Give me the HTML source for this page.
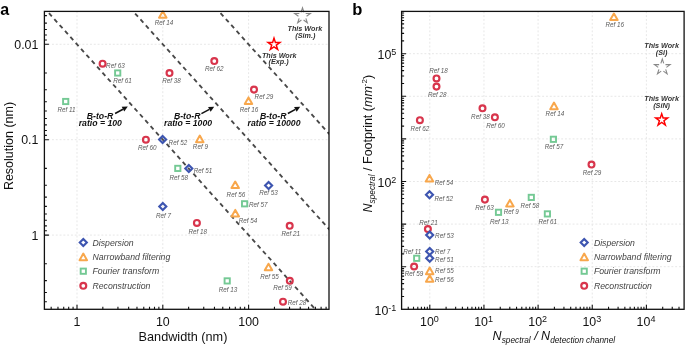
<!DOCTYPE html><html><head><meta charset="utf-8"><style>html,body{margin:0;padding:0;background:#fff;width:685px;height:346px;overflow:hidden}svg{display:block;will-change:transform}</style></head><body><svg width="685" height="346" viewBox="0 0 685 346" font-family='"Liberation Sans", sans-serif'><rect width="685" height="346" fill="#fff"/><defs><clipPath id="ca"><rect x="44.4" y="11.4" width="284.6" height="297.90000000000003"/></clipPath><clipPath id="cb"><rect x="401.6" y="11.4" width="282.5" height="297.90000000000003"/></clipPath></defs><line x1="77.00" y1="11.4" x2="77.00" y2="309.3" stroke="#e4e4e4" stroke-width="0.9" stroke-dasharray="1.9 1.9"/><line x1="162.80" y1="11.4" x2="162.80" y2="309.3" stroke="#e4e4e4" stroke-width="0.9" stroke-dasharray="1.9 1.9"/><line x1="248.60" y1="11.4" x2="248.60" y2="309.3" stroke="#e4e4e4" stroke-width="0.9" stroke-dasharray="1.9 1.9"/><line x1="44.4" y1="44.30" x2="329.0" y2="44.30" stroke="#e4e4e4" stroke-width="0.9" stroke-dasharray="1.9 1.9"/><line x1="44.4" y1="139.70" x2="329.0" y2="139.70" stroke="#e4e4e4" stroke-width="0.9" stroke-dasharray="1.9 1.9"/><line x1="44.4" y1="235.10" x2="329.0" y2="235.10" stroke="#e4e4e4" stroke-width="0.9" stroke-dasharray="1.9 1.9"/><line x1="429.80" y1="11.4" x2="429.80" y2="309.3" stroke="#e4e4e4" stroke-width="0.9" stroke-dasharray="1.9 1.9"/><line x1="483.95" y1="11.4" x2="483.95" y2="309.3" stroke="#e4e4e4" stroke-width="0.9" stroke-dasharray="1.9 1.9"/><line x1="538.10" y1="11.4" x2="538.10" y2="309.3" stroke="#e4e4e4" stroke-width="0.9" stroke-dasharray="1.9 1.9"/><line x1="592.25" y1="11.4" x2="592.25" y2="309.3" stroke="#e4e4e4" stroke-width="0.9" stroke-dasharray="1.9 1.9"/><line x1="646.40" y1="11.4" x2="646.40" y2="309.3" stroke="#e4e4e4" stroke-width="0.9" stroke-dasharray="1.9 1.9"/><line x1="401.6" y1="266.70" x2="684.1" y2="266.70" stroke="#e4e4e4" stroke-width="0.9" stroke-dasharray="1.9 1.9"/><line x1="401.6" y1="224.10" x2="684.1" y2="224.10" stroke="#e4e4e4" stroke-width="0.9" stroke-dasharray="1.9 1.9"/><line x1="401.6" y1="181.50" x2="684.1" y2="181.50" stroke="#e4e4e4" stroke-width="0.9" stroke-dasharray="1.9 1.9"/><line x1="401.6" y1="138.90" x2="684.1" y2="138.90" stroke="#e4e4e4" stroke-width="0.9" stroke-dasharray="1.9 1.9"/><line x1="401.6" y1="96.30" x2="684.1" y2="96.30" stroke="#e4e4e4" stroke-width="0.9" stroke-dasharray="1.9 1.9"/><line x1="401.6" y1="53.70" x2="684.1" y2="53.70" stroke="#e4e4e4" stroke-width="0.9" stroke-dasharray="1.9 1.9"/><g clip-path="url(#ca)"><line x1="30" y1="-7.96" x2="340" y2="336.73" stroke="#484848" stroke-width="1.85" stroke-dasharray="4.3 3.7" stroke-dashoffset="3.64"/><line x1="30" y1="-103.36" x2="340" y2="241.33" stroke="#484848" stroke-width="1.85" stroke-dasharray="4.3 3.7" stroke-dashoffset="2.81"/><line x1="30" y1="-198.76" x2="340" y2="145.93" stroke="#484848" stroke-width="1.85" stroke-dasharray="4.3 3.7" stroke-dashoffset="3.10"/></g><path d="M51.17 309.3v-2.5M57.97 309.3v-2.5M63.71 309.3v-2.5M68.69 309.3v-2.5M73.07 309.3v-2.5M77.00 309.3v-4.5M102.83 309.3v-2.5M117.94 309.3v-2.5M128.66 309.3v-2.5M136.97 309.3v-2.5M143.77 309.3v-2.5M149.51 309.3v-2.5M154.49 309.3v-2.5M158.87 309.3v-2.5M162.80 309.3v-4.5M188.63 309.3v-2.5M203.74 309.3v-2.5M214.46 309.3v-2.5M222.77 309.3v-2.5M229.57 309.3v-2.5M235.31 309.3v-2.5M240.29 309.3v-2.5M244.67 309.3v-2.5M248.60 309.3v-4.5M274.43 309.3v-2.5M289.54 309.3v-2.5M300.26 309.3v-2.5M308.57 309.3v-2.5M315.37 309.3v-2.5M321.11 309.3v-2.5M326.09 309.3v-2.5M44.4 15.58h2.5M44.4 23.14h2.5M44.4 29.52h2.5M44.4 35.05h2.5M44.4 39.93h2.5M44.4 44.30h4.5M44.4 73.02h2.5M44.4 89.82h2.5M44.4 101.74h2.5M44.4 110.98h2.5M44.4 118.54h2.5M44.4 124.92h2.5M44.4 130.45h2.5M44.4 135.33h2.5M44.4 139.70h4.5M44.4 168.42h2.5M44.4 185.22h2.5M44.4 197.14h2.5M44.4 206.38h2.5M44.4 213.94h2.5M44.4 220.32h2.5M44.4 225.85h2.5M44.4 230.73h2.5M44.4 235.10h4.5M44.4 263.82h2.5M44.4 280.62h2.5M44.4 292.54h2.5M44.4 301.78h2.5M408.25 309.3v-2.5M413.50 309.3v-2.5M417.79 309.3v-2.5M421.41 309.3v-2.5M424.55 309.3v-2.5M427.32 309.3v-2.5M429.80 309.3v-4.5M446.10 309.3v-2.5M455.64 309.3v-2.5M462.40 309.3v-2.5M467.65 309.3v-2.5M471.94 309.3v-2.5M475.56 309.3v-2.5M478.70 309.3v-2.5M481.47 309.3v-2.5M483.95 309.3v-4.5M500.25 309.3v-2.5M509.79 309.3v-2.5M516.55 309.3v-2.5M521.80 309.3v-2.5M526.09 309.3v-2.5M529.71 309.3v-2.5M532.85 309.3v-2.5M535.62 309.3v-2.5M538.10 309.3v-4.5M554.40 309.3v-2.5M563.94 309.3v-2.5M570.70 309.3v-2.5M575.95 309.3v-2.5M580.24 309.3v-2.5M583.86 309.3v-2.5M587.00 309.3v-2.5M589.77 309.3v-2.5M592.25 309.3v-4.5M608.55 309.3v-2.5M618.09 309.3v-2.5M624.85 309.3v-2.5M630.10 309.3v-2.5M634.39 309.3v-2.5M638.01 309.3v-2.5M641.15 309.3v-2.5M643.92 309.3v-2.5M646.40 309.3v-4.5M662.70 309.3v-2.5M672.24 309.3v-2.5M679.00 309.3v-2.5M401.6 296.48h2.5M401.6 288.97h2.5M401.6 283.65h2.5M401.6 279.52h2.5M401.6 276.15h2.5M401.6 273.30h2.5M401.6 270.83h2.5M401.6 268.65h2.5M401.6 266.70h4.5M401.6 253.88h2.5M401.6 246.37h2.5M401.6 241.05h2.5M401.6 236.92h2.5M401.6 233.55h2.5M401.6 230.70h2.5M401.6 228.23h2.5M401.6 226.05h2.5M401.6 224.10h4.5M401.6 211.28h2.5M401.6 203.77h2.5M401.6 198.45h2.5M401.6 194.32h2.5M401.6 190.95h2.5M401.6 188.10h2.5M401.6 185.63h2.5M401.6 183.45h2.5M401.6 181.50h4.5M401.6 168.68h2.5M401.6 161.17h2.5M401.6 155.85h2.5M401.6 151.72h2.5M401.6 148.35h2.5M401.6 145.50h2.5M401.6 143.03h2.5M401.6 140.85h2.5M401.6 138.90h4.5M401.6 126.08h2.5M401.6 118.57h2.5M401.6 113.25h2.5M401.6 109.12h2.5M401.6 105.75h2.5M401.6 102.90h2.5M401.6 100.43h2.5M401.6 98.25h2.5M401.6 96.30h4.5M401.6 83.48h2.5M401.6 75.97h2.5M401.6 70.65h2.5M401.6 66.52h2.5M401.6 63.15h2.5M401.6 60.30h2.5M401.6 57.83h2.5M401.6 55.65h2.5M401.6 53.70h4.5M401.6 40.88h2.5M401.6 33.37h2.5M401.6 28.05h2.5M401.6 23.92h2.5M401.6 20.55h2.5M401.6 17.70h2.5M401.6 15.23h2.5M401.6 13.05h2.5" stroke="#111111" stroke-width="1.1" fill="none"/><text x="106.10" y="67.82" text-anchor="start" font-size="6.3" font-style="italic" fill="#5a5a5a">Ref 63</text><text x="113.20" y="83.12" text-anchor="start" font-size="6.3" font-style="italic" fill="#5a5a5a">Ref 61</text><text x="66.50" y="111.82" text-anchor="middle" font-size="6.3" font-style="italic" fill="#5a5a5a">Ref 11</text><text x="164.00" y="25.42" text-anchor="middle" font-size="6.3" font-style="italic" fill="#5a5a5a">Ref 14</text><text x="214.20" y="70.82" text-anchor="middle" font-size="6.3" font-style="italic" fill="#5a5a5a">Ref 62</text><text x="171.50" y="82.72" text-anchor="middle" font-size="6.3" font-style="italic" fill="#5a5a5a">Ref 38</text><text x="254.60" y="98.62" text-anchor="start" font-size="6.3" font-style="italic" fill="#5a5a5a">Ref 29</text><text x="249.00" y="111.62" text-anchor="middle" font-size="6.3" font-style="italic" fill="#5a5a5a">Ref 16</text><text x="147.30" y="149.82" text-anchor="middle" font-size="6.3" font-style="italic" fill="#5a5a5a">Ref 60</text><text x="168.60" y="145.22" text-anchor="start" font-size="6.3" font-style="italic" fill="#5a5a5a">Ref 52</text><text x="200.40" y="149.02" text-anchor="middle" font-size="6.3" font-style="italic" fill="#5a5a5a">Ref 9</text><text x="193.70" y="173.02" text-anchor="start" font-size="6.3" font-style="italic" fill="#5a5a5a">Ref 51</text><text x="178.70" y="180.22" text-anchor="middle" font-size="6.3" font-style="italic" fill="#5a5a5a">Ref 58</text><text x="235.90" y="196.52" text-anchor="middle" font-size="6.3" font-style="italic" fill="#5a5a5a">Ref 56</text><text x="268.60" y="195.42" text-anchor="middle" font-size="6.3" font-style="italic" fill="#5a5a5a">Ref 53</text><text x="248.90" y="207.02" text-anchor="start" font-size="6.3" font-style="italic" fill="#5a5a5a">Ref 57</text><text x="238.80" y="222.92" text-anchor="start" font-size="6.3" font-style="italic" fill="#5a5a5a">Ref 54</text><text x="163.50" y="218.22" text-anchor="middle" font-size="6.3" font-style="italic" fill="#5a5a5a">Ref 7</text><text x="197.70" y="234.22" text-anchor="middle" font-size="6.3" font-style="italic" fill="#5a5a5a">Ref 18</text><text x="290.80" y="235.92" text-anchor="middle" font-size="6.3" font-style="italic" fill="#5a5a5a">Ref 21</text><text x="228.00" y="291.62" text-anchor="middle" font-size="6.3" font-style="italic" fill="#5a5a5a">Ref 13</text><text x="269.50" y="278.72" text-anchor="middle" font-size="6.3" font-style="italic" fill="#5a5a5a">Ref 55</text><text x="282.60" y="289.92" text-anchor="middle" font-size="6.3" font-style="italic" fill="#5a5a5a">Ref 59</text><text x="287.70" y="304.62" text-anchor="start" font-size="6.3" font-style="italic" fill="#5a5a5a">Ref 28</text><circle cx="102.60" cy="63.70" r="2.95" fill="none" stroke="#d8354c" stroke-width="2.15"/><rect x="115.08" y="70.38" width="5.24" height="5.24" fill="none" stroke="#74c994" stroke-width="1.9"/><rect x="63.08" y="98.88" width="5.24" height="5.24" fill="none" stroke="#74c994" stroke-width="1.9"/><path d="M162.80 11.20L166.55 17.75L159.05 17.75Z" fill="none" stroke="#f8a74c" stroke-width="2.0" stroke-linejoin="round"/><circle cx="214.30" cy="61.10" r="2.95" fill="none" stroke="#d8354c" stroke-width="2.15"/><circle cx="169.50" cy="73.00" r="2.95" fill="none" stroke="#d8354c" stroke-width="2.15"/><circle cx="254.00" cy="89.60" r="2.95" fill="none" stroke="#d8354c" stroke-width="2.15"/><path d="M248.50 97.40L252.25 103.95L244.75 103.95Z" fill="none" stroke="#f8a74c" stroke-width="2.0" stroke-linejoin="round"/><circle cx="145.90" cy="139.70" r="2.95" fill="none" stroke="#d8354c" stroke-width="2.15"/><path d="M162.60 136.10L166.10 139.60L162.60 143.10L159.10 139.60Z" fill="none" stroke="#3d55b0" stroke-width="2.15"/><path d="M199.80 135.60L203.55 142.15L196.05 142.15Z" fill="none" stroke="#f8a74c" stroke-width="2.0" stroke-linejoin="round"/><path d="M188.80 164.90L192.30 168.40L188.80 171.90L185.30 168.40Z" fill="none" stroke="#3d55b0" stroke-width="2.15"/><rect x="175.18" y="165.78" width="5.24" height="5.24" fill="none" stroke="#74c994" stroke-width="1.9"/><path d="M235.20 181.50L238.95 188.05L231.45 188.05Z" fill="none" stroke="#f8a74c" stroke-width="2.0" stroke-linejoin="round"/><path d="M268.60 181.90L272.10 185.40L268.60 188.90L265.10 185.40Z" fill="none" stroke="#3d55b0" stroke-width="2.15"/><rect x="241.98" y="201.18" width="5.24" height="5.24" fill="none" stroke="#74c994" stroke-width="1.9"/><path d="M235.30 209.90L239.05 216.45L231.55 216.45Z" fill="none" stroke="#f8a74c" stroke-width="2.0" stroke-linejoin="round"/><path d="M162.80 203.10L166.30 206.60L162.80 210.10L159.30 206.60Z" fill="none" stroke="#3d55b0" stroke-width="2.15"/><circle cx="196.90" cy="222.90" r="2.95" fill="none" stroke="#d8354c" stroke-width="2.15"/><circle cx="289.70" cy="225.80" r="2.95" fill="none" stroke="#d8354c" stroke-width="2.15"/><rect x="224.58" y="278.28" width="5.24" height="5.24" fill="none" stroke="#74c994" stroke-width="1.9"/><path d="M268.50 263.70L272.25 270.25L264.75 270.25Z" fill="none" stroke="#f8a74c" stroke-width="2.0" stroke-linejoin="round"/><circle cx="289.80" cy="280.80" r="2.95" fill="none" stroke="#d8354c" stroke-width="2.15"/><circle cx="283.00" cy="301.70" r="2.95" fill="none" stroke="#d8354c" stroke-width="2.15"/><text x="614.80" y="27.42" text-anchor="middle" font-size="6.3" font-style="italic" fill="#5a5a5a">Ref 16</text><text x="438.50" y="72.92" text-anchor="middle" font-size="6.3" font-style="italic" fill="#5a5a5a">Ref 18</text><text x="437.20" y="96.82" text-anchor="middle" font-size="6.3" font-style="italic" fill="#5a5a5a">Ref 28</text><text x="419.90" y="130.92" text-anchor="middle" font-size="6.3" font-style="italic" fill="#5a5a5a">Ref 62</text><text x="480.40" y="118.72" text-anchor="middle" font-size="6.3" font-style="italic" fill="#5a5a5a">Ref 38</text><text x="495.60" y="127.92" text-anchor="middle" font-size="6.3" font-style="italic" fill="#5a5a5a">Ref 60</text><text x="554.90" y="116.32" text-anchor="middle" font-size="6.3" font-style="italic" fill="#5a5a5a">Ref 14</text><text x="554.00" y="149.22" text-anchor="middle" font-size="6.3" font-style="italic" fill="#5a5a5a">Ref 57</text><text x="592.00" y="174.72" text-anchor="middle" font-size="6.3" font-style="italic" fill="#5a5a5a">Ref 29</text><text x="434.70" y="184.62" text-anchor="start" font-size="6.3" font-style="italic" fill="#5a5a5a">Ref 54</text><text x="434.40" y="201.32" text-anchor="start" font-size="6.3" font-style="italic" fill="#5a5a5a">Ref 52</text><text x="484.60" y="209.52" text-anchor="middle" font-size="6.3" font-style="italic" fill="#5a5a5a">Ref 63</text><text x="499.20" y="224.12" text-anchor="middle" font-size="6.3" font-style="italic" fill="#5a5a5a">Ref 13</text><text x="511.20" y="213.62" text-anchor="middle" font-size="6.3" font-style="italic" fill="#5a5a5a">Ref 9</text><text x="529.90" y="207.72" text-anchor="middle" font-size="6.3" font-style="italic" fill="#5a5a5a">Ref 58</text><text x="547.80" y="224.12" text-anchor="middle" font-size="6.3" font-style="italic" fill="#5a5a5a">Ref 61</text><text x="428.60" y="224.92" text-anchor="middle" font-size="6.3" font-style="italic" fill="#5a5a5a">Ref 21</text><text x="435.10" y="237.92" text-anchor="start" font-size="6.3" font-style="italic" fill="#5a5a5a">Ref 53</text><text x="435.10" y="253.52" text-anchor="start" font-size="6.3" font-style="italic" fill="#5a5a5a">Ref 7</text><text x="435.10" y="261.72" text-anchor="start" font-size="6.3" font-style="italic" fill="#5a5a5a">Ref 51</text><text x="412.30" y="254.12" text-anchor="middle" font-size="6.3" font-style="italic" fill="#5a5a5a">Ref 11</text><text x="414.10" y="275.82" text-anchor="middle" font-size="6.3" font-style="italic" fill="#5a5a5a">Ref 59</text><text x="435.10" y="273.22" text-anchor="start" font-size="6.3" font-style="italic" fill="#5a5a5a">Ref 55</text><text x="435.10" y="281.62" text-anchor="start" font-size="6.3" font-style="italic" fill="#5a5a5a">Ref 56</text><path d="M613.90 13.50L617.65 20.05L610.15 20.05Z" fill="none" stroke="#f8a74c" stroke-width="2.0" stroke-linejoin="round"/><circle cx="436.50" cy="78.40" r="2.95" fill="none" stroke="#d8354c" stroke-width="2.15"/><circle cx="436.50" cy="86.60" r="2.95" fill="none" stroke="#d8354c" stroke-width="2.15"/><circle cx="419.90" cy="120.20" r="2.95" fill="none" stroke="#d8354c" stroke-width="2.15"/><circle cx="482.50" cy="108.30" r="2.95" fill="none" stroke="#d8354c" stroke-width="2.15"/><circle cx="494.90" cy="117.30" r="2.95" fill="none" stroke="#d8354c" stroke-width="2.15"/><path d="M554.00 102.60L557.75 109.15L550.25 109.15Z" fill="none" stroke="#f8a74c" stroke-width="2.0" stroke-linejoin="round"/><rect x="550.78" y="136.68" width="5.24" height="5.24" fill="none" stroke="#74c994" stroke-width="1.9"/><circle cx="591.50" cy="164.50" r="2.95" fill="none" stroke="#d8354c" stroke-width="2.15"/><path d="M429.50 174.90L433.25 181.45L425.75 181.45Z" fill="none" stroke="#f8a74c" stroke-width="2.0" stroke-linejoin="round"/><path d="M429.50 191.20L433.00 194.70L429.50 198.20L426.00 194.70Z" fill="none" stroke="#3d55b0" stroke-width="2.15"/><circle cx="484.90" cy="199.60" r="2.95" fill="none" stroke="#d8354c" stroke-width="2.15"/><rect x="495.88" y="209.68" width="5.24" height="5.24" fill="none" stroke="#74c994" stroke-width="1.9"/><path d="M509.90 199.90L513.65 206.45L506.15 206.45Z" fill="none" stroke="#f8a74c" stroke-width="2.0" stroke-linejoin="round"/><rect x="528.68" y="194.78" width="5.24" height="5.24" fill="none" stroke="#74c994" stroke-width="1.9"/><rect x="544.78" y="211.28" width="5.24" height="5.24" fill="none" stroke="#74c994" stroke-width="1.9"/><circle cx="427.90" cy="229.10" r="2.95" fill="none" stroke="#d8354c" stroke-width="2.15"/><path d="M429.70 231.40L433.20 234.90L429.70 238.40L426.20 234.90Z" fill="none" stroke="#3d55b0" stroke-width="2.15"/><path d="M429.70 247.90L433.20 251.40L429.70 254.90L426.20 251.40Z" fill="none" stroke="#3d55b0" stroke-width="2.15"/><path d="M429.70 254.80L433.20 258.30L429.70 261.80L426.20 258.30Z" fill="none" stroke="#3d55b0" stroke-width="2.15"/><rect x="414.08" y="255.68" width="5.24" height="5.24" fill="none" stroke="#74c994" stroke-width="1.9"/><circle cx="414.10" cy="266.50" r="2.95" fill="none" stroke="#d8354c" stroke-width="2.15"/><path d="M429.70 267.60L433.45 274.15L425.95 274.15Z" fill="none" stroke="#f8a74c" stroke-width="2.0" stroke-linejoin="round"/><path d="M429.70 275.20L433.45 281.75L425.95 281.75Z" fill="none" stroke="#f8a74c" stroke-width="2.0" stroke-linejoin="round"/><polygon points="274.00,35.80 275.93,41.74 282.18,41.74 277.12,45.42 279.05,51.36 274.00,47.69 268.95,51.36 270.88,45.42 265.82,41.74 272.07,41.74" fill="#ff0000"/><polygon points="274.00,40.50 274.88,43.19 277.71,43.19 275.42,44.86 276.29,47.56 274.00,45.89 271.71,47.56 272.58,44.86 270.29,43.19 273.12,43.19" fill="#fff"/><text x="279.20" y="57.79" text-anchor="middle" font-size="7.2" font-style="italic" font-weight="bold" fill="#333">This Work</text><text x="278.60" y="63.99" text-anchor="middle" font-size="7.2" font-style="italic" font-weight="bold" fill="#333">(Exp.)</text><polygon points="302.50,7.90 304.34,13.57 310.30,13.57 305.48,17.07 307.32,22.73 302.50,19.23 297.68,22.73 299.52,17.07 294.70,13.57 300.66,13.57" fill="none" stroke="#888" stroke-width="1.1" stroke-dasharray="9.234 2.681" stroke-dashoffset="4.617" stroke-linejoin="miter" stroke-miterlimit="10"/><text x="304.90" y="30.89" text-anchor="middle" font-size="7.2" font-style="italic" font-weight="bold" fill="#333">This Work</text><text x="305.30" y="37.59" text-anchor="middle" font-size="7.2" font-style="italic" font-weight="bold" fill="#333">(Sim.)</text><text x="661.60" y="47.99" text-anchor="middle" font-size="7.2" font-style="italic" font-weight="bold" fill="#333">This Work</text><text x="661.60" y="55.19" text-anchor="middle" font-size="7.2" font-style="italic" font-weight="bold" fill="#333">(Si)</text><polygon points="662.30,59.00 664.14,64.67 670.10,64.67 665.28,68.17 667.12,73.83 662.30,70.33 657.48,73.83 659.32,68.17 654.50,64.67 660.46,64.67" fill="none" stroke="#888" stroke-width="1.1" stroke-dasharray="9.234 2.681" stroke-dashoffset="4.617" stroke-linejoin="miter" stroke-miterlimit="10"/><text x="661.60" y="101.39" text-anchor="middle" font-size="7.2" font-style="italic" font-weight="bold" fill="#333">This Work</text><text x="661.60" y="108.39" text-anchor="middle" font-size="7.2" font-style="italic" font-weight="bold" fill="#333">(SiN)</text><polygon points="661.70,111.40 663.63,117.34 669.88,117.34 664.82,121.02 666.75,126.96 661.70,123.29 656.65,126.96 658.58,121.02 653.52,117.34 659.77,117.34" fill="#ff0000"/><polygon points="661.70,116.10 662.58,118.79 665.41,118.79 663.12,120.46 663.99,123.16 661.70,121.49 659.41,123.16 660.28,120.46 657.99,118.79 660.82,118.79" fill="#fff"/><text x="86.80" y="118.5" font-size="8.7" font-style="italic" font-weight="bold" fill="#111">B-to-R</text><text x="78.70" y="126.1" font-size="8.7" font-style="italic" font-weight="bold" fill="#111">ratio = 100</text><line x1="115.10" y1="113.50" x2="122.97" y2="109.23" stroke="#111" stroke-width="1.5"/><path d="M127.80 106.60L124.26 111.60L121.68 106.85Z" fill="#111"/><text x="173.90" y="118.5" font-size="8.7" font-style="italic" font-weight="bold" fill="#111">B-to-R</text><text x="164.00" y="126.1" font-size="8.7" font-style="italic" font-weight="bold" fill="#111">ratio = 1000</text><line x1="201.40" y1="113.70" x2="209.37" y2="109.34" stroke="#111" stroke-width="1.5"/><path d="M214.20 106.70L210.67 111.71L208.08 106.97Z" fill="#111"/><text x="259.90" y="118.5" font-size="8.7" font-style="italic" font-weight="bold" fill="#111">B-to-R</text><text x="247.60" y="126.1" font-size="8.7" font-style="italic" font-weight="bold" fill="#111">ratio = 10000</text><line x1="287.90" y1="113.50" x2="295.39" y2="109.36" stroke="#111" stroke-width="1.5"/><path d="M300.20 106.70L296.69 111.72L294.08 107.00Z" fill="#111"/><path d="M83.30 239.00L86.80 242.50L83.30 246.00L79.80 242.50Z" fill="none" stroke="#3d55b0" stroke-width="2.15"/><text x="92.5" y="245.70" font-size="8.7" font-style="italic" fill="#444">Dispersion</text><path d="M83.30 253.60L87.05 260.15L79.55 260.15Z" fill="none" stroke="#f8a74c" stroke-width="2.0" stroke-linejoin="round"/><text x="92.5" y="260.10" font-size="8.7" font-style="italic" fill="#444">Narrowband filtering</text><rect x="80.68" y="268.58" width="5.24" height="5.24" fill="none" stroke="#74c994" stroke-width="1.9"/><text x="92.5" y="274.40" font-size="8.7" font-style="italic" fill="#444">Fourier transform</text><circle cx="83.30" cy="285.80" r="2.95" fill="none" stroke="#d8354c" stroke-width="2.15"/><text x="92.5" y="289.00" font-size="8.7" font-style="italic" fill="#444">Reconstruction</text><path d="M584.20 239.00L587.70 242.50L584.20 246.00L580.70 242.50Z" fill="none" stroke="#3d55b0" stroke-width="2.15"/><text x="593.9" y="245.70" font-size="8.7" font-style="italic" fill="#444">Dispersion</text><path d="M584.20 253.60L587.95 260.15L580.45 260.15Z" fill="none" stroke="#f8a74c" stroke-width="2.0" stroke-linejoin="round"/><text x="593.9" y="260.10" font-size="8.7" font-style="italic" fill="#444">Narrowband filtering</text><rect x="581.58" y="268.58" width="5.24" height="5.24" fill="none" stroke="#74c994" stroke-width="1.9"/><text x="593.9" y="274.40" font-size="8.7" font-style="italic" fill="#444">Fourier transform</text><circle cx="584.20" cy="285.80" r="2.95" fill="none" stroke="#d8354c" stroke-width="2.15"/><text x="593.9" y="289.00" font-size="8.7" font-style="italic" fill="#444">Reconstruction</text><rect x="44.4" y="11.4" width="284.60" height="297.90" fill="none" stroke="#111111" stroke-width="1.3"/><rect x="401.6" y="11.4" width="282.50" height="297.90" fill="none" stroke="#111111" stroke-width="1.3"/><text x="77.00" y="325.8" text-anchor="middle" font-size="12.4" fill="#111">1</text><text x="162.80" y="325.8" text-anchor="middle" font-size="12.4" fill="#111">10</text><text x="248.60" y="325.8" text-anchor="middle" font-size="12.4" fill="#111">100</text><text x="38.4" y="48.70" text-anchor="end" font-size="12.4" fill="#111">0.01</text><text x="38.4" y="144.10" text-anchor="end" font-size="12.4" fill="#111">0.1</text><text x="38.4" y="239.50" text-anchor="end" font-size="12.4" fill="#111">1</text><text x="420.00" y="325.8" font-size="12.4" fill="#111">10<tspan font-size="9" dy="-4.1">0</tspan></text><text x="474.15" y="325.8" font-size="12.4" fill="#111">10<tspan font-size="9" dy="-4.1">1</tspan></text><text x="528.30" y="325.8" font-size="12.4" fill="#111">10<tspan font-size="9" dy="-4.1">2</tspan></text><text x="582.45" y="325.8" font-size="12.4" fill="#111">10<tspan font-size="9" dy="-4.1">3</tspan></text><text x="636.60" y="325.8" font-size="12.4" fill="#111">10<tspan font-size="9" dy="-4.1">4</tspan></text><text x="396.3" y="59.00" text-anchor="end" font-size="12.4" fill="#111">10<tspan font-size="9" dy="-4.1">5</tspan></text><text x="396.3" y="186.80" text-anchor="end" font-size="12.4" fill="#111">10<tspan font-size="9" dy="-4.1">2</tspan></text><text x="396.3" y="314.60" text-anchor="end" font-size="12.4" fill="#111">10<tspan font-size="9" dy="-4.1">-1</tspan></text><text x="183" y="340.9" text-anchor="middle" font-size="12.7" fill="#111">Bandwidth (nm)</text><text transform="translate(13.1 146) rotate(-90)" text-anchor="middle" font-size="12.5" fill="#111">Resolution (nm)</text><text x="492.6" y="339.8" font-size="12.5" font-style="italic" fill="#111">N<tspan font-size="8.3" dy="2.9">spectral</tspan><tspan dy="-2.9"> / N</tspan><tspan font-size="8.3" dy="2.9">detection channel</tspan></text><text transform="translate(371.9 212.5) rotate(-90)" font-size="12.5" fill="#111"><tspan font-style="italic">N</tspan><tspan font-size="8.3" font-style="italic" dy="2.9">spectral</tspan><tspan dy="-2.9"> / Footprint (</tspan><tspan font-style="italic">mm</tspan><tspan font-size="8" dy="-4.5">-2</tspan><tspan dy="4.5">)</tspan></text><text x="0.3" y="15.2" font-size="16" font-weight="bold" fill="#000">a</text><text x="352.2" y="15.3" font-size="16.5" font-weight="bold" fill="#000">b</text></svg></body></html>
